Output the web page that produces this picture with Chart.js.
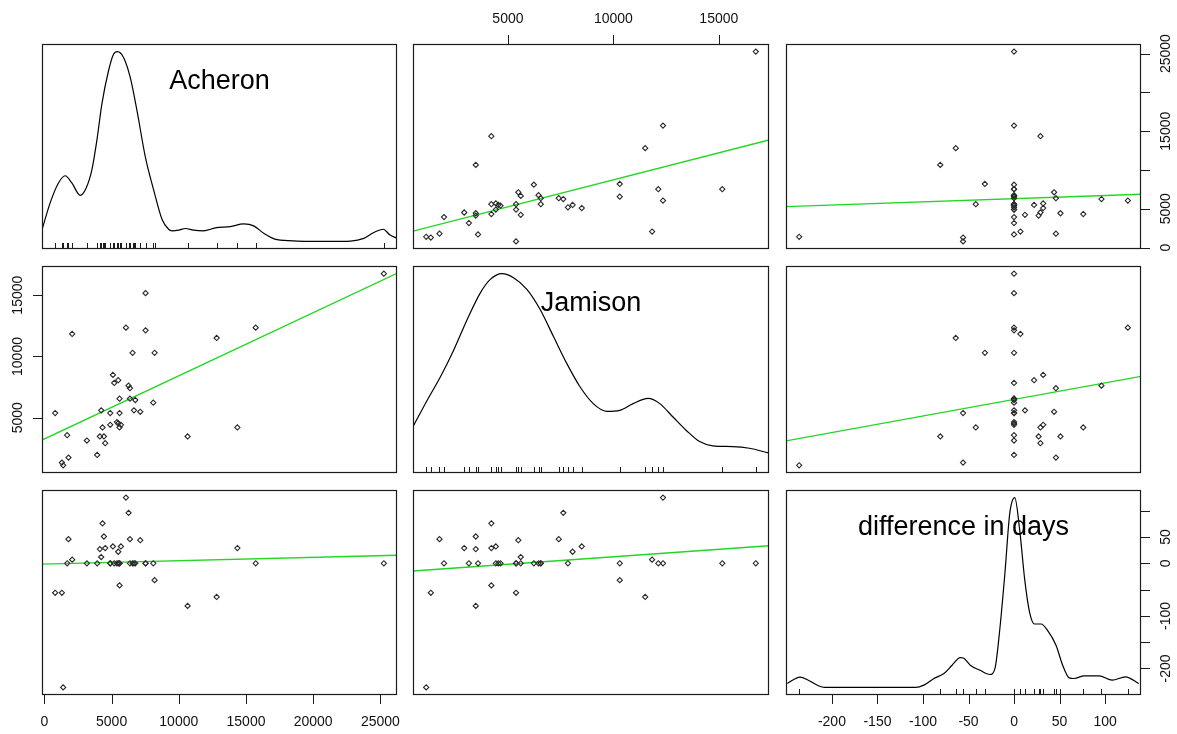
<!DOCTYPE html>
<html lang="en">
  <head>
    <meta charset="UTF-8" />
    <title>Scatterplot matrix</title>
    <script src="https://cdn.jsdelivr.net/npm/chart.js"></script>
    <style>
      body {
        margin: 0;
        background: #fff;
      }
      #page {
        position: relative;
        width: 1177px;
        height: 734px;
        overflow: hidden;
      }
      #page canvas {
        position: absolute;
      }
    </style>
  </head>
  <body>
    <div id="page"></div>
    <script>
      // one entry per site: Acheron, Jamison, difference in days
      const acheron = [
        6066, 6260, 4322, 4426, 1789, 6364, 7131, 5097, 5693, 4523, 4128,
        14359, 5492, 4225, 2064, 8197, 5589, 797, 1297, 12817, 10656, 1394,
        25261, 7526, 7526, 15723, 6558, 5194, 5589, 6364, 6759, 8100, 4896,
        5589, 6662, 4896, 5395, 5492, 1692, 3159, 3927,
      ];
      const jamison = [
        12352, 7623, 4213, 3475, 1754, 7410, 5492, 8500, 4426, 2926, 3475,
        4213, 8066, 5607, 11836, 10303, 4213, 5385, 1344, 11508, 3475, 1123,
        16754, 15164, 12131, 12352, 10303, 7844, 6557, 6557, 6451, 6230, 5385,
        5385, 5607, 4426, 4648, 4541, 3582, 3148, 1967,
      ];
      const diffDays = [
        125, 96, 76, 51, 46, 46, 44, 32, 32, 29, 27, 29, 22, 12, 7, -32, -42,
        -56, -56, -64, -81, -236, 0, 0, 0, 0, 0, 0, 0, 0, 0, 0, 0, 0, 0, 0, 0,
        0, 0, 0, 0,
      ];
      const varNames = ["Acheron", "Jamison", "difference in days"];

      // density curves (relative height, peak = 100)
      const acheronDensX = [
        -170, 425, 1043, 1543, 2040, 2660, 3107, 3530, 3905, 4277, 4770, 5142,
        5440, 5887, 6386, 6885, 7504, 8122, 8748, 9240, 9493, 9985, 10484,
        11103, 11848, 12720, 13838, 14829, 15575, 16320, 17318, 18808, 21290,
        22780, 23770, 24517, 25217, 25700, 26280,
      ];
      const acheronDensY = [
        6.4, 20.3, 30.8, 34.6, 30.8, 24.3, 28.2, 37.7, 53.4, 72.5, 89.9, 98.6,
        100, 96.9, 86.4, 69, 44.7, 27.3, 11.7, 6.4, 5.6, 5.9, 6.8, 5.9, 5.6,
        7.1, 7.8, 9.2, 8.2, 4.3, 0.9, 0.2, 0, 0.2, 1.6, 4.7, 6.4, 3.5, 1.5,
      ];
      const jamisonDensX = [
        525, 1172, 1800, 2430, 3062, 3691, 4163, 4716, 5265, 5898, 6527, 7155,
        7788, 8417, 9046, 9679, 10307, 10936, 11645, 12198, 12827, 13460,
        14088, 14717, 15662, 16450, 17349,
      ];
      const jamisonDensY = [
        20.8, 34, 46.2, 60.2, 76, 90, 97, 100, 97.9, 91.8, 81.3, 67.3, 53.2,
        41, 32.2, 28.2, 28.7, 32.2, 34.9, 32.2, 25.2, 18.2, 12.4, 10.2, 9.8,
        8.9, 6.5,
      ];
      const diffDensX = [
        -249, -235, -226, -215, -208, -157, -108, -99, -88, -77, -68, -59,
        -55.6, -48, -37.4, -26.5, -21, -15.6, -10, -4.7, 0.8, 6.2, 11.7, 17.1,
        22.5, 29.8, 37, 46.2, 53.4, 60.7, 66, 77, 93.4, 107.8, 122.4, 137,
      ];
      const diffDensY = [
        2.1, 5.4, 3.8, 0.9, 0, 0, 0, 1.2, 4.7, 7.3, 11.7, 15.7, 15.5, 11.7, 9,
        6.8, 9.9, 30.8, 60.3, 91.7, 100, 83, 56.9, 39.5, 33.4, 33.4, 29.9,
        22.1, 11.7, 5, 4.7, 6.1, 6.1, 3.8, 5.6, 2.1,
      ];

      // axis ticks and the labels R kept
      const acheronTicks = [0, 5000, 10000, 15000, 20000, 25000];
      const acheronRightLabels = [0, 5000, 15000, 25000];
      const jamisonTicks = [5000, 10000, 15000];
      const diffTicks = [-200, -150, -100, -50, 0, 50, 100];
      const diffRightLabels = [50, 0, -100, -200];

      //------------------------------ layout ------------------------------//
      const colLeft = [42, 413, 786];
      const colRight = [397, 769, 1141];
      const rowTop = [44, 266, 490];
      const rowBottom = [249, 473, 695];
      const M = 50;

      const values = [acheron, jamison, diffDays];
      const dens = [
        [acheronDensX, acheronDensY],
        [jamisonDensX, jamisonDensY],
        [diffDensX, diffDensY],
      ];

      function rangeOf(v) {
        const lo = Math.min(...v);
        const hi = Math.max(...v);
        const pad = (hi - lo) * 0.04;
        return [lo - pad, hi + pad];
      }
      const ranges = values.map(rangeOf);

      function fit(xs, ys) {
        const n = xs.length;
        const mx = xs.reduce((s, v) => s + v, 0) / n;
        const my = ys.reduce((s, v) => s + v, 0) / n;
        let sxy = 0;
        let sxx = 0;
        for (let i = 0; i < n; i++) {
          sxy += (xs[i] - mx) * (ys[i] - my);
          sxx += (xs[i] - mx) * (xs[i] - mx);
        }
        const b = sxy / sxx;
        return [my - b * mx, b];
      }

      // axes drawn by the pairs() layout: [row, col] -> sides
      function axesFor(r, c) {
        const axes = [];
        if (r === 2 && c === 0)
          axes.push({ side: "bottom", ticks: acheronTicks, labels: acheronTicks });
        if (r === 0 && c === 1)
          axes.push({ side: "top", ticks: jamisonTicks, labels: jamisonTicks });
        if (r === 2 && c === 2)
          axes.push({ side: "bottom", ticks: diffTicks, labels: diffTicks });
        if (r === 0 && c === 2)
          axes.push({ side: "right", ticks: acheronTicks, labels: acheronRightLabels });
        if (r === 1 && c === 0)
          axes.push({ side: "left", ticks: jamisonTicks, labels: jamisonTicks });
        if (r === 2 && c === 2)
          axes.push({ side: "right", ticks: diffTicks, labels: diffRightLabels });
        return axes;
      }

      const matrixDecor = {
        id: "matrixDecor",
        afterDatasetsDraw(chart, args, opts) {
          const ctx = chart.ctx;
          const a = chart.chartArea;
          const xs = chart.scales.x;
          const yVar = chart.scales.yVar;
          ctx.save();
          ctx.strokeStyle = "#1c1c1c";
          ctx.lineWidth = 1;
          // rug along the bottom of the density panels
          if (opts.rug) {
            ctx.beginPath();
            opts.rug.forEach(function (v) {
              const px = Math.round(xs.getPixelForValue(v)) + 0.5;
              ctx.moveTo(px, a.bottom);
              ctx.lineTo(px, a.bottom - 6);
            });
            ctx.stroke();
          }
          ctx.lineWidth = 1.2;
          ctx.strokeRect(a.left + 0.5, a.top + 0.5, a.right - a.left - 1, a.bottom - a.top - 1);

          ctx.lineWidth = 1;
          ctx.fillStyle = "#111";
          ctx.font = "14px 'Liberation Sans', Arial, sans-serif";
          (opts.axes || []).forEach(function (ax) {
            const horiz = ax.side === "top" || ax.side === "bottom";
            const scale = horiz ? xs : yVar;
            ctx.beginPath();
            ax.ticks.forEach(function (v) {
              const p = Math.round(scale.getPixelForValue(v)) + 0.5;
              if (ax.side === "bottom") { ctx.moveTo(p, a.bottom); ctx.lineTo(p, a.bottom + 9); }
              if (ax.side === "top") { ctx.moveTo(p, a.top); ctx.lineTo(p, a.top - 9); }
              if (ax.side === "left") { ctx.moveTo(a.left, p); ctx.lineTo(a.left - 9, p); }
              if (ax.side === "right") { ctx.moveTo(a.right, p); ctx.lineTo(a.right + 9, p); }
            });
            ctx.stroke();
            ctx.textAlign = "center";
            ctx.textBaseline = "middle";
            ax.labels.forEach(function (v) {
              const p = scale.getPixelForValue(v);
              if (horiz) {
                ctx.fillText(String(v), p, ax.side === "bottom" ? a.bottom + 27 : a.top - 25);
              } else {
                ctx.save();
                ctx.translate(ax.side === "left" ? a.left - 24 : a.right + 25, p);
                ctx.rotate(-Math.PI / 2);
                ctx.fillText(String(v), 0, 0);
                ctx.restore();
              }
            });
          });

          if (opts.title) {
            ctx.font = "27px 'Liberation Sans', Arial, sans-serif";
            ctx.fillStyle = "#000";
            ctx.textAlign = "center";
            ctx.textBaseline = "alphabetic";
            ctx.fillText(opts.title, (a.left + a.right) / 2, a.top + 45);
          }
          ctx.restore();
        },
      };

      const page = document.querySelector("#page");

      for (let r = 0; r < 3; r++) {
        for (let c = 0; c < 3; c++) {
          const w = colRight[c] - colLeft[c];
          const h = rowBottom[r] - rowTop[r];
          const canvas = document.createElement("canvas");
          canvas.width = w + 2 * M;
          canvas.height = h + 2 * M;
          canvas.style.left = colLeft[c] - M + "px";
          canvas.style.top = rowTop[r] - M + "px";
          canvas.style.width = w + 2 * M + "px";
          canvas.style.height = h + 2 * M + "px";
          page.appendChild(canvas);

          const xr = ranges[c];
          let yr;
          let datasets;
          let decor = { axes: axesFor(r, c) };

          if (r === c) {
            const dx = dens[c][0];
            const dy = dens[c][1];
            yr = [-4, 104];
            datasets = [
              {
                type: "line",
                data: dx.map(function (x, i) { return { x: x, y: dy[i] }; }),
                borderColor: "#000",
                borderWidth: 1.2,
                pointRadius: 0,
                fill: false,
                cubicInterpolationMode: "monotone",
              },
            ];
            decor.rug = values[c];
            decor.title = varNames[c];
          } else {
            const xv = values[c];
            const yv = values[r];
            yr = ranges[r];
            const lf = fit(xv, yv);
            datasets = [
              {
                type: "scatter",
                data: xv.map(function (x, i) { return { x: x, y: yv[i] }; }),
                pointStyle: "rectRot",
                radius: 2.6,
                borderWidth: 1.1,
                borderColor: "#2a2a2a",
                backgroundColor: "rgba(255,255,255,0)",
              },
              {
                type: "line",
                data: [
                  { x: xr[0], y: lf[0] + lf[1] * xr[0] },
                  { x: xr[1], y: lf[0] + lf[1] * xr[1] },
                ],
                borderColor: "#22d622",
                borderWidth: 1.4,
                pointRadius: 0,
                fill: false,
              },
            ];
          }

          new Chart(canvas, {
            type: "scatter",
            data: { datasets: datasets },
            options: {
              responsive: false,
              animation: false,
              devicePixelRatio: 1,
              layout: { padding: M },
              plugins: {
                legend: { display: false },
                tooltip: { enabled: false },
                matrixDecor: decor,
              },
              scales: {
                x: { type: "linear", display: false, min: xr[0], max: xr[1] },
                y: { type: "linear", display: false, min: yr[0], max: yr[1] },
                // the row variable's scale, used for the vertical axis labels
                yVar: {
                  type: "linear",
                  axis: "y",
                  display: false,
                  min: ranges[r][0],
                  max: ranges[r][1],
                },
              },
            },
            plugins: [matrixDecor],
          });
        }
      }
    </script>
  </body>
</html>
